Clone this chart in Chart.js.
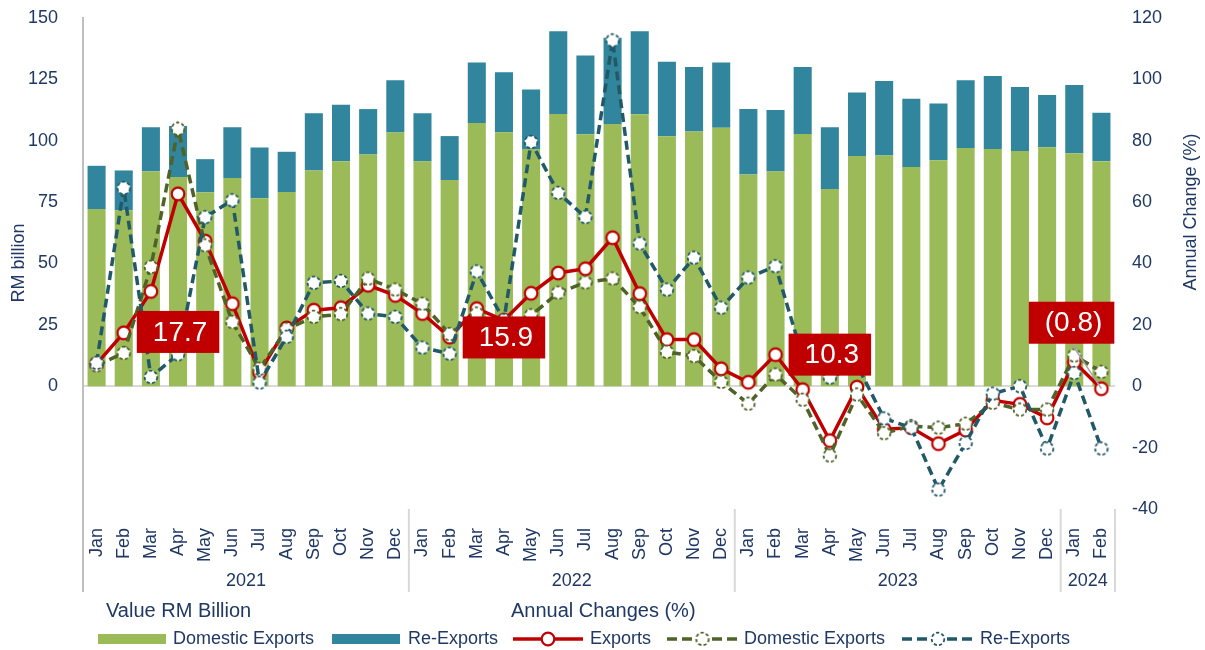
<!DOCTYPE html>
<html>
<head>
<meta charset="utf-8">
<script src="https://cdn.jsdelivr.net/npm/chart.js@4.4.1/dist/chart.umd.min.js"></script>
<style>
  html, body { margin: 0; padding: 0; background: #fff; }
  #wrap { width: 1205px; height: 650px; }
</style>
</head>
<body>
<div id="wrap"><canvas id="tradeChart" width="1205" height="650"></canvas></div>
<script>
// categories
const monthNames = ['Jan','Feb','Mar','Apr','May','Jun','Jul','Aug','Sep','Oct','Nov','Dec'];
const months = [...monthNames, ...monthNames, ...monthNames, 'Jan', 'Feb'];
const yearLabels = ['2021', '2022', '2023', '2024'];
const yearSpans = [12, 12, 12, 2];

// value, RM billion (left axis)
const domesticExports = [72.2, 71.7, 87.5, 85.2, 79.0, 84.8, 76.6, 79.1, 87.9, 91.6, 94.4, 103.4,
                         91.6, 84.0, 107.2, 103.5, 96.6, 110.9, 102.6, 106.8, 110.8, 101.8, 103.8, 105.3,
                         86.3, 87.5, 102.7, 80.3, 93.8, 94.0, 89.3, 92.1, 97.0, 96.6, 95.8, 97.4,
                         94.9, 91.7];
const reExports = [17.6, 16.2, 18.0, 20.8, 13.5, 20.7, 20.7, 16.4, 23.3, 23.1, 18.5, 21.2,
                   19.6, 17.9, 24.7, 24.4, 24.3, 33.7, 32.1, 35.2, 33.8, 30.4, 26.2, 26.6,
                   26.6, 25.0, 27.3, 25.2, 25.9, 30.3, 27.8, 23.1, 27.6, 29.8, 26.1, 21.2,
                   27.8, 19.7];

// annual change, % (right axis)
const exportsChg = [7.3, 17.4, 30.9, 62.7, 47.3, 26.9, 4.5, 19.0, 24.8, 25.6, 32.9, 29.6,
                    23.7, 16.0, 25.3, 21.5, 30.3, 36.9, 38.3, 48.4, 30.2, 15.2, 15.2, 5.7,
                    1.3, 10.3, -1.1, -17.7, -0.3, -14.0, -13.5, -18.7, -14.3, -4.6, -5.9, -10.3,
                    7.9, -0.8];
const domesticChg = [6.8, 10.8, 38.9, 83.9, 45.9, 20.9, 5.7, 18.6, 22.6, 23.5, 35.1, 31.5,
                     26.9, 17.0, 23.7, 19.0, 23.1, 30.5, 33.8, 35.1, 25.8, 11.2, 9.8, 1.4,
                     -5.7, 3.8, -4.4, -22.6, -2.7, -15.3, -13.0, -13.5, -12.2, -5.4, -7.6, -7.6,
                     10.0, 4.7];
const reExportsChg = [7.6, 64.6, 3.0, 10.4, 55.1, 60.6, 1.2, 16.1, 33.7, 34.3, 23.7, 22.6,
                      12.6, 10.6, 37.4, 21.5, 79.6, 63.0, 55.1, 112.7, 46.5, 31.5, 41.9, 25.6,
                      35.4, 39.1, 9.5, 2.8, 7.0, -10.5, -13.5, -33.7, -18.5, -2.4, 0.0, -20.3,
                      4.3, -20.3];

const NAVY = '#1F3864';
const GREEN = '#9BBB59', TEAL = '#31859C';
const RED = '#C00000', OLIVE = '#4F6228', DTEAL = '#215968';
const FONT = "'Liberation Sans', Arial, sans-serif";

Chart.defaults.font.family = FONT;
Chart.defaults.color = NAVY;

// white ring markers, dashed outline for the two component series
function ring(color, dashed) {
  const c = document.createElement('canvas');
  c.width = c.height = 18;
  const g = c.getContext('2d');
  g.beginPath();
  g.arc(9, 9, 6.3, 0, Math.PI * 2);
  g.fillStyle = '#fff';
  g.fill();
  g.lineWidth = dashed ? 1.8 : 2.2;
  if (dashed) g.setLineDash([3.2, 2.2]);
  g.strokeStyle = color;
  g.stroke();
  return c;
}
const redRing = ring(RED, false);
const oliveRing = ring(OLIVE, true);
const tealRing = ring(DTEAL, true);

// red value boxes (text, category index, value on right axis)
const callouts = [
  { text: '17.7', at: 3, value: 17.7 },
  { text: '15.9', at: 15, value: 15.9 },
  { text: '10.3', at: 27, value: 10.3 },
  { text: '(0.8)', at: 35.9, value: 20.7, pointTo: 37 }
];

const extras = {
  id: 'extras',
  afterDraw(chart) {
    const ctx = chart.ctx;
    const xs = chart.scales.x, y1 = chart.scales.y1;
    const area = chart.chartArea;

    // year group separators below the axis
    ctx.save();
    ctx.lineWidth = 2;
    ctx.strokeStyle = '#bfbfbf';
    ctx.beginPath();
    ctx.moveTo(area.left, area.bottom);
    ctx.lineTo(area.left, 592);
    ctx.stroke();
    ctx.strokeStyle = '#d9d9d9';
    let start = 0;
    const edges = [area.left];
    yearSpans.forEach((n, i) => {
      const end = start + n;
      const xEdge = i === yearSpans.length - 1 ? area.right : xs.getPixelForValue(end - 0.5);
      edges.push(xEdge);
      ctx.beginPath();
      ctx.moveTo(xEdge, area.bottom);
      ctx.lineTo(xEdge, 592);
      ctx.stroke();
      start = end;
    });
    ctx.fillStyle = NAVY;
    ctx.font = '18px ' + FONT;
    ctx.textAlign = 'center';
    ctx.textBaseline = 'middle';
    yearLabels.forEach((yr, i) => ctx.fillText(yr, (edges[i] + edges[i + 1]) / 2, 581));

    // axis titles
    ctx.save();
    ctx.translate(19, 263);
    ctx.rotate(-Math.PI / 2);
    ctx.fillText('RM billion', 0, 0);
    ctx.restore();
    ctx.save();
    ctx.translate(1191, 212);
    ctx.rotate(-Math.PI / 2);
    ctx.fillText('Annual Change (%)', 0, 0);
    ctx.restore();

    // callouts
    callouts.forEach(c => {
      const cx = xs.getPixelForValue(c.at);
      const cy = y1.getPixelForValue(c.value);
      ctx.font = '28px ' + FONT;
      const w = ctx.measureText(c.text).width + 28, h = 42;
      if (c.pointTo !== undefined) {
        ctx.strokeStyle = '#a6a6a6';
        ctx.lineWidth = 1.5;
        ctx.beginPath();
        ctx.moveTo(cx, cy + h / 2);
        ctx.lineTo(xs.getPixelForValue(c.pointTo), y1.getPixelForValue(exportsChg[c.pointTo]));
        ctx.stroke();
      }
      ctx.fillStyle = RED;
      ctx.fillRect(cx - w / 2, cy - h / 2, w, h);
      ctx.fillStyle = '#fff';
      ctx.textAlign = 'center';
      ctx.fillText(c.text, cx + 2, cy + 1);
    });

    // legend
    ctx.fillStyle = NAVY;
    ctx.textAlign = 'left';
    ctx.font = '20px ' + FONT;
    ctx.fillText('Value RM Billion', 106, 611);
    ctx.fillText('Annual Changes (%)', 511, 611);
    const ly = 639;
    ctx.font = '18px ' + FONT;
    const items = [
      { kind: 'box', color: GREEN, x0: 98, x1: 166, tx: 173, text: 'Domestic Exports' },
      { kind: 'box', color: TEAL, x0: 332, x1: 400, tx: 408, text: 'Re-Exports' },
      { kind: 'line', color: RED, dash: [], mark: redRing, x0: 513, x1: 583, tx: 590, text: 'Exports' },
      { kind: 'line', color: OLIVE, dash: [10, 5], mark: oliveRing, x0: 667, x1: 738, tx: 744, text: 'Domestic Exports' },
      { kind: 'line', color: DTEAL, dash: [10, 5], mark: tealRing, x0: 902, x1: 974, tx: 980, text: 'Re-Exports' }
    ];
    items.forEach(it => {
      if (it.kind === 'box') {
        ctx.fillStyle = it.color;
        ctx.fillRect(it.x0, ly - 5, it.x1 - it.x0, 10);
      } else {
        ctx.strokeStyle = it.color;
        ctx.lineWidth = 3.5;
        ctx.setLineDash(it.dash);
        ctx.beginPath();
        ctx.moveTo(it.x0, ly);
        ctx.lineTo(it.x1, ly);
        ctx.stroke();
        ctx.setLineDash([]);
        const mx = (it.x0 + it.x1) / 2;
        ctx.drawImage(it.mark, mx - 9, ly - 9);
      }
      ctx.fillStyle = NAVY;
      ctx.fillText(it.text, it.tx, ly);
    });
    ctx.restore();
  }
};

new Chart(document.getElementById('tradeChart'), {
  data: {
    labels: months,
    datasets: [
      {
        type: 'bar', label: 'Domestic Exports', data: domesticExports,
        backgroundColor: GREEN, yAxisID: 'y', order: 10,
        barPercentage: 0.665, categoryPercentage: 1
      },
      {
        type: 'bar', label: 'Re-Exports', data: reExports,
        backgroundColor: TEAL, yAxisID: 'y', order: 10,
        barPercentage: 0.665, categoryPercentage: 1
      },
      {
        type: 'line', label: 'Exports', data: exportsChg, yAxisID: 'y1', order: 3,
        borderColor: RED, borderWidth: 3.5, tension: 0,
        pointStyle: redRing, pointRadius: 6, pointHoverRadius: 6
      },
      {
        type: 'line', label: 'Domestic Exports (%)', data: domesticChg, yAxisID: 'y1', order: 2,
        borderColor: OLIVE, borderWidth: 3.5, borderDash: [9, 5], tension: 0,
        pointStyle: oliveRing, pointRadius: 6, pointHoverRadius: 6
      },
      {
        type: 'line', label: 'Re-Exports (%)', data: reExportsChg, yAxisID: 'y1', order: 1,
        borderColor: DTEAL, borderWidth: 3.5, borderDash: [9, 5], tension: 0,
        pointStyle: tealRing, pointRadius: 6, pointHoverRadius: 6
      }
    ]
  },
  options: {
    responsive: false,
    animation: false,
    layout: { padding: { top: 18, left: 0, right: 0, bottom: 0 } },
    plugins: { legend: { display: false }, tooltip: { enabled: false } },
    scales: {
      x: {
        stacked: true,
        grid: { display: false },
        border: { display: false },
        ticks: { autoSkip: false, minRotation: 90, maxRotation: 90, padding: 11, font: { size: 18 }, color: NAVY },
        afterFit(s) { s.height = 141; s.paddingLeft = 0; s.paddingRight = 0; }
      },
      y: {
        position: 'left', stacked: true, min: -50, max: 150,
        grid: { display: false },
        border: { display: true, color: '#bfbfbf', width: 2 },
        ticks: { stepSize: 25, padding: 17, font: { size: 18 }, color: NAVY, callback: v => (v < 0 ? '' : v) },
        afterFit(s) { s.width = 83; s.paddingTop = 0; s.paddingBottom = 0; }
      },
      y1: {
        position: 'right', min: -40, max: 120,
        grid: {
          display: true, drawTicks: false, lineWidth: 2,
          color: c => (c.tick && c.tick.value === 0 ? '#d9d9d9' : 'rgba(0,0,0,0)')
        },
        border: { display: false },
        ticks: { stepSize: 20, padding: 17, font: { size: 18 }, color: NAVY },
        afterFit(s) { s.width = 90; s.paddingTop = 0; s.paddingBottom = 0; }
      }
    }
  },
  plugins: [extras]
});
</script>
</body>
</html>
